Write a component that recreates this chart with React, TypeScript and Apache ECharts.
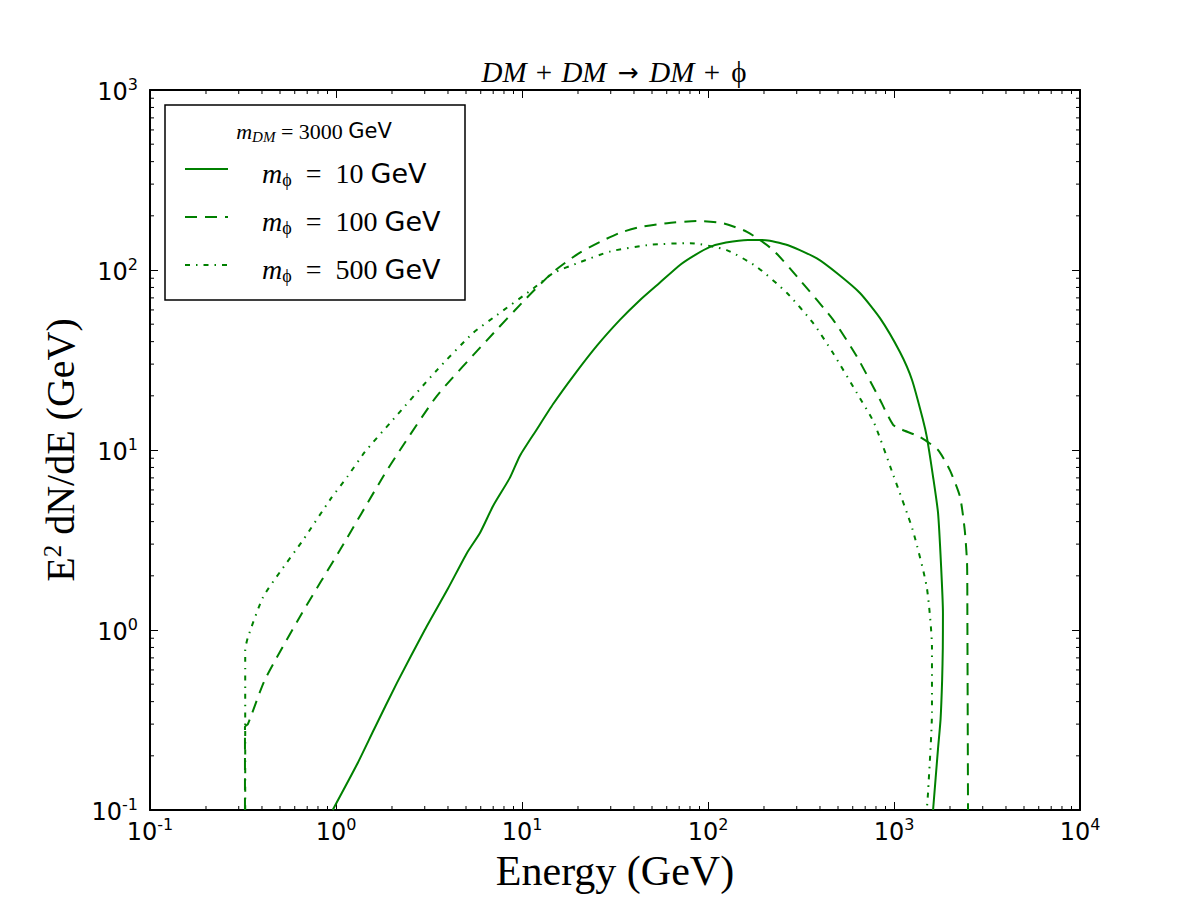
import React, { useEffect, useRef } from "react";
import * as echarts from "echarts";

// Energy E (GeV) against E^2 dN/dE (GeV) for each mediator mass.
const spectrumPhi10: [number, number][] = [
  [0.96, 0.1], [1.3, 0.18], [1.6, 0.28], [2.13, 0.51], [3.0, 1.0], [4.0, 1.7],
  [5.06, 2.68], [5.94, 3.46], [7.0, 4.9], [8.6, 7.0], [9.75, 9.3], [12, 13],
  [14.7, 18], [19, 26], [25.3, 38], [33.7, 53], [43, 68], [55, 85], [71, 107],
  [85, 121], [102, 134], [125, 142], [164, 147], [210, 146], [276, 136],
  [385, 116], [500, 95], [656, 74.5], [841, 54], [1076, 35], [1250, 24.5],
  [1432, 14.7], [1502, 11.8], [1622, 7.1], [1725, 4.47], [1790, 2.3],
  [1833, 1.24], [1830, 0.8], [1815, 0.53], [1780, 0.32], [1725, 0.22], [1622, 0.1],
];

const spectrumPhi100: [number, number][] = [
  [0.324, 0.1], [0.324, 0.29], [0.336, 0.3], [0.415, 0.53], [0.656, 1.24],
  [1.05, 2.78], [1.79, 7.1], [2.21, 10], [3.49, 20], [6.49, 40.8],
  [10.6, 70], [14.7, 97.5], [20, 123], [26.2, 143], [33.6, 161], [43, 173],
  [60.3, 182], [87, 187], [120, 182], [162, 163], [224, 129], [312, 88],
  [470, 53], [632, 33], [841, 19], [989, 13.8], [1100, 13], [1380, 11.8],
  [1725, 10], [2000, 7.7], [2264, 5.5], [2400, 3.6], [2470, 2.36], [2480, 1.24],
  [2500, 0.1],
];

const spectrumPhi500: [number, number][] = [
  [0.325, 0.1], [0.325, 0.77], [0.336, 0.91], [0.405, 1.52], [0.5, 2.1],
  [0.665, 3.16], [0.93, 5.3], [1.15, 7.1], [1.43, 9.75], [2.02, 14.7],
  [3.49, 27.8], [5.46, 44.7], [7.3, 56], [11.5, 79], [14.7, 96], [19.8, 109],
  [30, 127], [48.8, 138], [80, 141], [126, 129], [183, 104], [266, 74.5],
  [367, 50.8], [470, 34.6], [632, 20.7], [780, 14.2], [989, 7.3], [1260, 3.6],
  [1500, 1.73], [1600, 0.8], [1600, 0.35], [1525, 0.126], [1500, 0.1],
];

const legendTitle = "{mi|m}{sub|DM}{r| = 3000 }{s|GeV}";
const legendEntries = [
  "{mi|m}{phi|ϕ}{r|  =  10 }{s|GeV}",
  "{mi|m}{phi|ϕ}{r|  =  100 }{s|GeV}",
  "{mi|m}{phi|ϕ}{r|  =  500 }{s|GeV}",
];
const seriesNames = ["m_phi = 10 GeV", "m_phi = 100 GeV", "m_phi = 500 GeV"];

const xRange = [0.1, 10000];
const yRange = [0.1, 1000];
const xMinorDecades = [-1, 0, 1, 2, 3];
const yMinorDecades = [-1, 0, 1, 2];
const minorMultipliers = [2, 3, 4, 5, 6, 7, 8, 9];

const GREEN = "#008000";
const SERIF = "'Liberation Serif', 'DejaVu Serif', serif";
const SANS = "'DejaVu Sans', sans-serif";

const DASHED = [12, 8];
const DASH_DOT = [5, 6, 1.5, 6];
const lineDashes: (number[] | "solid")[] = ["solid", DASHED, DASH_DOT];

const powerLabel = (v: number) => `{b|10}{s|${Math.round(Math.log10(v))}}`;
const powerRich = {
  b: { fontFamily: SANS, fontSize: 24, lineHeight: 28, verticalAlign: "bottom", color: "#000" },
  s: { fontFamily: SANS, fontSize: 16, lineHeight: 16, verticalAlign: "top", color: "#000" },
};

const minorXData = xMinorDecades.flatMap((d) =>
  minorMultipliers.map((k) => [k * Math.pow(10, d), 1])
);
const minorYData = yMinorDecades.flatMap((d) =>
  minorMultipliers.map((k) => [1, k * Math.pow(10, d)])
);

const MAJOR_TICK = 8;
const MINOR_TICK = 4;

function minorTickSeries(data: number[][], horizontal: boolean) {
  return {
    type: "custom",
    silent: true,
    clip: false,
    xAxisIndex: 0,
    yAxisIndex: 0,
    data,
    z: 5,
    renderItem: (params: any, api: any) => {
      const cs = params.coordSys;
      const p = api.coord([api.value(0), api.value(1)]);
      const style = { stroke: "#000", lineWidth: 1 };
      if (horizontal) {
        const x = p[0];
        const bottom = cs.y + cs.height;
        const top = cs.y;
        return {
          type: "group",
          children: [
            { type: "line", shape: { x1: x, y1: bottom, x2: x, y2: bottom - MINOR_TICK }, style },
            { type: "line", shape: { x1: x, y1: top, x2: x, y2: top + MINOR_TICK }, style },
          ],
        };
      }
      const y = p[1];
      const left = cs.x;
      const right = cs.x + cs.width;
      return {
        type: "group",
        children: [
          { type: "line", shape: { x1: left, y1: y, x2: left + MINOR_TICK, y2: y }, style },
          { type: "line", shape: { x1: right, y1: y, x2: right - MINOR_TICK, y2: y }, style },
        ],
      };
    },
  };
}

const mathRich = (size: number, subSize: number) => ({
  mi: { fontFamily: SERIF, fontStyle: "italic", fontSize: size, lineHeight: size + 4, color: "#000" },
  sub: {
    fontFamily: SERIF,
    fontStyle: "italic",
    fontSize: subSize,
    lineHeight: subSize,
    verticalAlign: "bottom",
    color: "#000",
  },
  phi: {
    fontFamily: SERIF,
    fontSize: subSize,
    lineHeight: subSize,
    verticalAlign: "bottom",
    color: "#000",
  },
  r: { fontFamily: SERIF, fontSize: size, lineHeight: size + 4, color: "#000" },
  s: { fontFamily: SANS, fontSize: size - 1, lineHeight: size + 4, color: "#000" },
});

function buildOption() {
  const baseAxis = {
    type: "log",
    logBase: 10,
    axisLine: { show: true, onZero: false, lineStyle: { color: "#000", width: 2 } },
    axisTick: { show: true, inside: true, length: MAJOR_TICK, lineStyle: { color: "#000", width: 1 } },
    splitLine: { show: false },
    minorTick: { show: false },
  };

  const legendRowsY = [169, 217, 265];
  const legendGraphics: any[] = [
    {
      type: "rect",
      shape: { x: 165, y: 105, width: 300, height: 195 },
      style: { fill: "#fff", stroke: "#000", lineWidth: 1.5 },
      z: 100,
    },
    {
      type: "text",
      x: 314,
      y: 131,
      z: 101,
      style: {
        text: legendTitle,
        rich: mathRich(22, 15),
        align: "center",
        verticalAlign: "middle",
      },
    },
  ];
  legendEntries.forEach((label, i) => {
    const y = legendRowsY[i];
    const dash = lineDashes[i];
    legendGraphics.push({
      type: "line",
      z: 101,
      shape: { x1: 185, y1: y, x2: 228, y2: y },
      style: {
        stroke: GREEN,
        lineWidth: 2,
        lineDash: dash === "solid" ? null : dash,
      },
    });
    legendGraphics.push({
      type: "text",
      x: 262,
      y: y + 4,
      z: 101,
      style: {
        text: label,
        rich: mathRich(28, 18),
        align: "left",
        verticalAlign: "middle",
      },
    });
  });

  return {
    animation: false,
    backgroundColor: "#fff",
    grid: { left: 150, right: 120, top: 90, bottom: 90, containLabel: false, outerBoundsMode: "none" },
    xAxis: [
      {
        ...baseAxis,
        position: "bottom",
        min: xRange[0],
        max: xRange[1],
        axisLabel: { formatter: powerLabel, rich: powerRich, margin: 6, showMinLabel: true, showMaxLabel: true },
        name: "Energy (GeV)",
        nameLocation: "middle",
        nameGap: 40,
        nameTextStyle: { fontFamily: SERIF, fontSize: 42, color: "#000" },
      },
      {
        ...baseAxis,
        position: "top",
        min: xRange[0],
        max: xRange[1],
        axisLabel: { show: false },
      },
    ],
    yAxis: [
      {
        ...baseAxis,
        position: "left",
        min: yRange[0],
        max: yRange[1],
        axisLabel: { formatter: powerLabel, rich: powerRich, margin: 12, showMinLabel: true, showMaxLabel: true },
        name: "E{sup|2} dN/dE (GeV)",
        nameLocation: "middle",
        nameGap: 70,
        nameTextStyle: {
          fontFamily: SERIF,
          fontSize: 40,
          color: "#000",
          rich: {
            sup: { fontFamily: SERIF, fontSize: 25, lineHeight: 30, verticalAlign: "top", color: "#000" },
          },
        },
      },
      {
        ...baseAxis,
        position: "right",
        min: yRange[0],
        max: yRange[1],
        axisLabel: { show: false },
      },
    ],
    graphic: [
      {
        type: "text",
        x: 615,
        y: 72,
        style: {
          text: "{i|DM}{r| + }{i|DM}{a| → }{i|DM}{r| + }{r|ϕ}",
          rich: {
            i: { fontFamily: SERIF, fontStyle: "italic", fontSize: 29, color: "#000" },
            r: { fontFamily: SERIF, fontSize: 29, color: "#000", padding: [0, 2] },
            a: { fontFamily: SANS, fontSize: 25, color: "#000", padding: [0, 3] },
          },
          align: "center",
          verticalAlign: "middle",
        },
      },
      ...legendGraphics,
    ],
    series: [
      ...[spectrumPhi10, spectrumPhi100, spectrumPhi500].map((data, i) => ({
        name: seriesNames[i],
        type: "line",
        xAxisIndex: 0,
        yAxisIndex: 0,
        data,
        showSymbol: false,
        symbol: "none",
        smooth: 0.2,
        clip: true,
        lineStyle: { color: GREEN, width: 2, type: lineDashes[i] },
        z: 3,
      })),
      minorTickSeries(minorXData, true),
      minorTickSeries(minorYData, false),
    ],
  };
}

export default function App() {
  const ref = useRef<HTMLDivElement>(null);
  useEffect(() => {
    if (!ref.current) return;
    const chart = echarts.init(ref.current, undefined, { renderer: "svg" });
    chart.setOption(buildOption() as any);
    return () => chart.dispose();
  }, []);
  return (
    <div
      ref={ref}
      style={{ position: "fixed", left: 0, top: 0, width: 1200, height: 900, background: "#fff" }}
    />
  );
}
